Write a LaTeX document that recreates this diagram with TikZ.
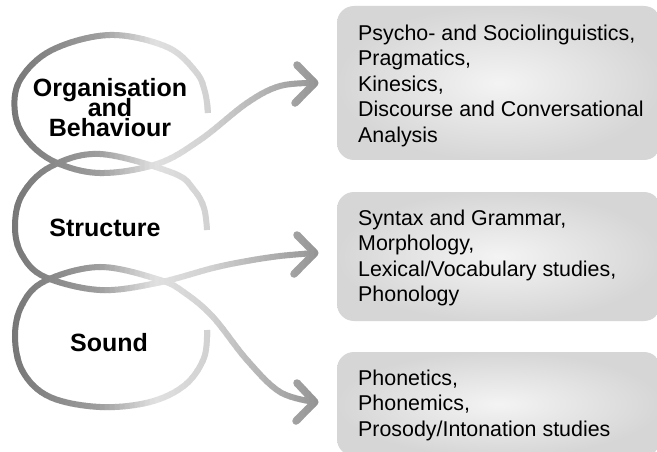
\documentclass[tikz,border=0pt]{standalone}
\usepackage{fontspec}
\setmainfont{Liberation Sans}
\definecolor{boxin}{gray}{0.955}
\definecolor{boxout}{gray}{0.84}
\setlength{\lineskiplimit}{-30pt}
\begin{document}
\begin{tikzpicture}[x=1pt,y=-1pt,
  boxshape/.style={shade, inner color=boxin, outer color=boxout, rounded corners=17pt, inner sep=0pt, minimum width=324pt},
  boxtext/.style={anchor=north west, inner sep=0pt, align=left, font=\fontsize{21.4}{25.5}\selectfont},
  lbl/.style={inner sep=0pt, align=center, font=\fontsize{25}{20}\selectfont\bfseries},
  curve/.style={line width=6pt, line cap=butt},
  chev/.style={line width=7.5pt, line cap=round, line join=round},
]
\useasboundingbox (0,0) rectangle (657,452);
\clip (0,0) rectangle (657,452);
\fill[white] (0,0) rectangle (657,452);

% boxes
\node[boxshape, minimum height=154pt] (box1) at (499,83) {};
\node[boxshape, minimum height=129pt] (box2) at (499,256.5) {};
\node[boxshape, minimum height=104pt] (box3) at (499,404) {};

\node[boxtext] (t1) at (358,24.6) {Psycho- and Sociolinguistics,\\Pragmatics,\\Kinesics,\\Discourse and Conversational\\Analysis};
\node[boxtext] (t2) at (358,209.6) {Syntax and Grammar,\\Morphology,\\Lexical/Vocabulary studies,\\Phonology};
\node[boxtext] (t3) at (358,369.6) {Phonetics,\\Phonemics,\\Prosody/Intonation studies};

% arrow tips and chevron ends
\coordinate (tip1) at ([xshift=-22pt]box1.west);
\coordinate (tip2) at ([xshift=-22pt,yshift=3.5pt]box2.west);
\coordinate (tip3) at ([xshift=-22pt,yshift=2pt]box3.west);
\coordinate (a1) at (297,65);  \coordinate (b1) at (295,103);
\coordinate (a2) at (297,235); \coordinate (b2) at (294,274);
\coordinate (a3) at (297,383); \coordinate (b3) at (296,421);

% gradient strokes, drawn in vertical bands
\foreach \xa in {0,5,...,330}{
  \pgfmathsetmacro\xm{\xa+2.5}
  \pgfmathsetmacro\g{\xm<100 ? 0.46+(\xm-10)*0.16/90 : (\xm<155 ? 0.62+(\xm-100)*0.26/55 : (\xm<210 ? 0.88-(\xm-155)*0.06/55 : 0.82-(\xm-210)*0.24/110))}
  \definecolor{bandc}{gray}{\g}
  \begin{scope}
    \clip (\xa-0.4,-10) rectangle (\xa+5.4,470);
    \draw[curve, bandc] plot[smooth, tension=0.6] coordinates {(208,113) (205,92) (196,72) (167,47) (110,35) (52,50) (20,80) (15,113) (27,140) (55,162) (100,173) (157,164) (200,140) (247,103) (280,86) (tip1)};
    \draw[curve, bandc] plot[smooth, tension=0.6] coordinates {(207,230) (204,208) (194,190) (173,173) (100,154) (50,167) (22,195) (15,227) (22,255) (45,277) (100,290) (157,283) (213,268) (247,261) (280,256) (tip2)};
    \draw[curve, bandc] plot[smooth, tension=0.6] coordinates {(207,330) (204,358) (185,385) (150,402) (100,407) (50,397) (23,372) (15,337) (22,305) (45,281) (100,267) (160,280) (185,293) (213,317) (247,360) (280,392) (tip3)};
    \draw[chev, bandc] (a1) -- (tip1) -- (b1);
    \draw[chev, bandc] (a2) -- (tip2) -- (b2);
    \draw[chev, bandc] (a3) -- (tip3) -- (b3);
  \end{scope}
}

% labels
\node[lbl, anchor=north] (org) at (110,78.5) {Organisation\\and\\Behaviour};
\node[lbl, anchor=base] (str) at (105,236.7) {Structure};
\node[lbl, anchor=base] (snd) at (109,351.7) {Sound};
\end{tikzpicture}
\end{document}
